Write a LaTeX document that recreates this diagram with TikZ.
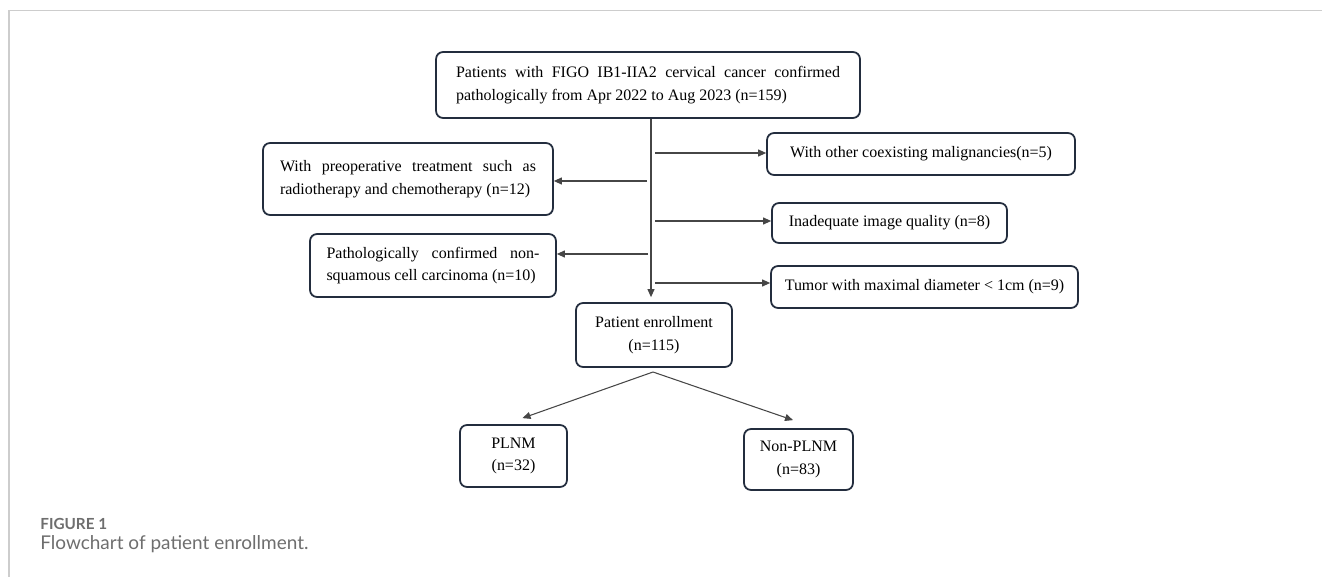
\documentclass[tikz,border=0pt]{standalone}
\usepackage{fontspec}
\setmainfont{Liberation Serif}
\newfontfamily\capfont{Lato}
\usetikzlibrary{arrows.meta}
\definecolor{boxline}{RGB}{35,45,62}
\definecolor{arrowgray}{RGB}{70,70,70}
\definecolor{framegray}{RGB}{205,205,205}
\definecolor{capgray}{RGB}{110,110,110}
\begin{document}
\begin{tikzpicture}[x=0.02cm, y=-0.02cm,
    box/.style={draw=boxline, line width=1pt, rounded corners=4pt, inner sep=0pt,
        font=\fontsize{9.1pt}{13pt}\selectfont},
    arr/.style={draw=arrowgray, line width=0.6pt, -{Triangle[length=1.6mm, width=1.4mm]}}]
    \useasboundingbox (0,0) rectangle (1322,577);
    \draw[framegray, line width=1.1pt] (9,577) -- (9,10.5) -- (1322,10.5);
    \node[box, minimum width=8.48cm, minimum height=1.32cm, text width=7.68cm, align=justify] (pool) at (648,85)
        {Patients with FIGO IB1-IIA2 cervical cancer confirmed\linebreak pathologically from Apr 2022 to Aug 2023 (n=159)};
    \node[box, minimum width=5.8cm, minimum height=1.44cm, text width=5.12cm, align=justify] (preop) at (408,179)
        {With preoperative treatment such as\linebreak radiotherapy and chemotherapy (n=12)};
    \node[box, minimum width=4.92cm, minimum height=1.26cm, text width=4.26cm, align=justify] (nonsq) at (433,265.5)
        {Pathologically confirmed non-\linebreak squamous cell carcinoma (n=10)};
    \node[box, minimum width=6.16cm, minimum height=0.84cm] (other) at (921,154) {With other coexisting malignancies(n=5)};
    \node[box, minimum width=4.7cm, minimum height=0.8cm] (image) at (889.5,223) {Inadequate image quality (n=8)};
    \node[box, minimum width=6.14cm, minimum height=0.84cm] (tumor) at (924.5,287) {Tumor with maximal diameter < 1cm (n=9)};
    \node[box, minimum width=3.12cm, minimum height=1.28cm, align=center] (enroll) at (654,335) {Patient enrollment\\(n=115)};
    \node[box, minimum width=2.14cm, minimum height=1.24cm, align=center] (plnm) at (513.5,456) {PLNM\\(n=32)};
    \node[box, minimum width=2.18cm, minimum height=1.22cm, align=center] (nonplnm) at (798.5,459.5) {Non-PLNM\\(n=83)};
    \coordinate (trunk) at (651,0);
    \draw[arr, shorten >=0.1cm] (trunk |- pool.south) -- (trunk |- enroll.north);
    \coordinate (toother) at (655,153);
    \coordinate (topreop) at (647,181);
    \coordinate (toimage) at (655,221);
    \coordinate (tononsq) at (648,254);
    \coordinate (totumor) at (655,283);
    \draw[arr] (toother) -- (toother -| other.west);
    \draw[arr] (topreop) -- (topreop -| preop.east);
    \draw[arr] (toimage) -- (toimage -| image.west);
    \draw[arr] (tononsq) -- (tononsq -| nonsq.east);
    \draw[arr] (totumor) -- (totumor -| tumor.west);
    \coordinate (split) at (653,372);
    \draw[arr] (split) -- ([xshift=0.18cm, yshift=0.12cm]plnm.north);
    \draw[arr] (split) -- ([xshift=-0.11cm, yshift=0.16cm]nonplnm.north);
    \node[anchor=base west, inner sep=0pt, text=capgray, font=\capfont\bfseries\fontsize{8.7pt}{10pt}\selectfont] (figlabel) at (40,529) {FIGURE 1};
    \node[anchor=base west, inner sep=0pt, text=capgray, font=\capfont\fontsize{10.8pt}{12pt}\selectfont] (figcaption) at (40,549) {Flowchart of patient enrollment.};
\end{tikzpicture}
\end{document}
